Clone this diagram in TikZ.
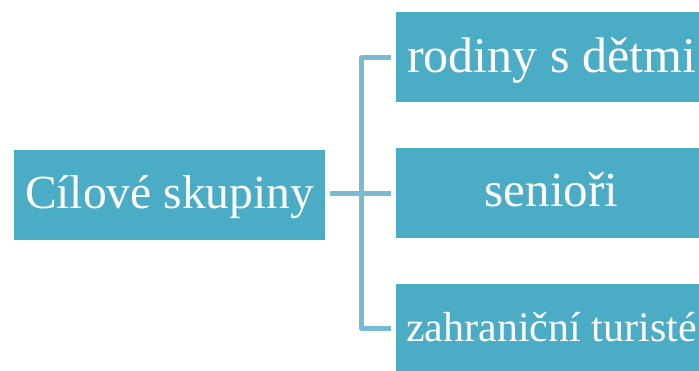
\documentclass[tikz,border=0pt]{standalone}
\usepackage{fontspec}
\setmainfont{Liberation Serif}
\definecolor{boxfill}{RGB}{75,172,198}
\definecolor{conncol}{RGB}{120,187,210}
\begin{document}
\begin{tikzpicture}[x=1pt,y=1pt,
  box/.style={fill=boxfill,draw=none,minimum width=311pt,minimum height=90pt,inner sep=0pt,text=white,align=center,text depth=0pt},
  conn/.style={draw=conncol,line width=5pt,line join=round}]
\useasboundingbox (0,0) rectangle (699,370);
\clip (0,0) rectangle (699,370);
\node[box,text height=28pt,font=\fontsize{47.5}{50}\selectfont] (L) at (169.5,175) {Cílové skupiny};
\node[box,text height=31.4pt,font=\fontsize{50}{52}\selectfont] (T) at (551.5,313) {rodiny s dětmi};
\node[box,text height=27.4pt,font=\fontsize{49}{52}\selectfont] (M) at (551.5,177) {senioři};
\node[box,text height=25.4pt,font=\fontsize{42}{44}\selectfont] (B) at (551.5,41) {zahraniční turisté};
\coordinate (J) at (361.7,176);
\draw[conn] ([xshift=5pt]L.east |- J) -- ([xshift=-5pt]M.west |- J);
\draw[conn] ([xshift=-5pt,yshift=-1pt]T.west) -| (J) |- ([xshift=-5pt,yshift=1pt]B.west);
\end{tikzpicture}
\end{document}
